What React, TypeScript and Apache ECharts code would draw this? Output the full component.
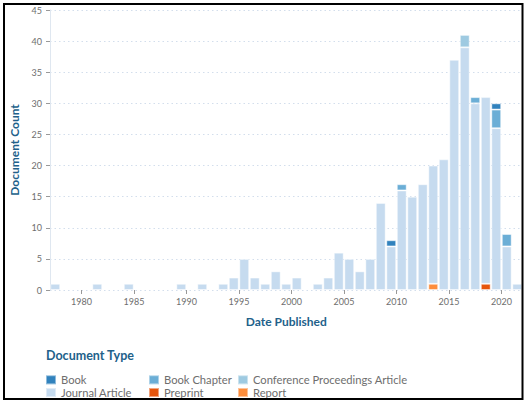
import React, { useEffect, useRef } from "react";
import * as echarts from "echarts";

const years: number[] = [];
for (let y = 1977; y <= 2021; y++) years.push(y);

// values per year, 1977..2021
const journalArticle = [
  1, 0, 0, 0, 1, 0, 0, 1, 0, 0, 0, 0, 1, 0, 1, 0, 1, 2, 5, 2, 1, 3, 1, 2, 0, 1, 2, 6, 5, 3,
  5, 14, 7, 16, 15, 17, 19, 21, 37, 39, 30, 30, 26, 7, 1,
];
const conferenceArticle = [
  0, 0, 0, 0, 0, 0, 0, 0, 0, 0, 0, 0, 0, 0, 0, 0, 0, 0, 0, 0, 0, 0, 0, 0, 0, 0, 0, 0, 0, 0,
  0, 0, 0, 0, 0, 0, 0, 0, 0, 2, 0, 0, 0, 0, 0,
];
const bookChapter = [
  0, 0, 0, 0, 0, 0, 0, 0, 0, 0, 0, 0, 0, 0, 0, 0, 0, 0, 0, 0, 0, 0, 0, 0, 0, 0, 0, 0, 0, 0,
  0, 0, 0, 1, 0, 0, 0, 0, 0, 0, 1, 0, 3, 2, 0,
];
const book = [
  0, 0, 0, 0, 0, 0, 0, 0, 0, 0, 0, 0, 0, 0, 0, 0, 0, 0, 0, 0, 0, 0, 0, 0, 0, 0, 0, 0, 0, 0,
  0, 0, 1, 0, 0, 0, 0, 0, 0, 0, 0, 0, 1, 0, 0,
];
const preprint = [
  0, 0, 0, 0, 0, 0, 0, 0, 0, 0, 0, 0, 0, 0, 0, 0, 0, 0, 0, 0, 0, 0, 0, 0, 0, 0, 0, 0, 0, 0,
  0, 0, 0, 0, 0, 0, 0, 0, 0, 0, 0, 1, 0, 0, 0,
];
const report = [
  0, 0, 0, 0, 0, 0, 0, 0, 0, 0, 0, 0, 0, 0, 0, 0, 0, 0, 0, 0, 0, 0, 0, 0, 0, 0, 0, 0, 0, 0,
  0, 0, 0, 0, 0, 0, 1, 0, 0, 0, 0, 0, 0, 0, 0,
];

const xTickYears = [1980, 1985, 1990, 1995, 2000, 2005, 2010, 2015, 2020];

const FONT = "Lato, 'Noto Sans', sans-serif";
const TITLE_COLOR = "#22618a";
const LABEL_COLOR = "#6e6e6e";

// stack order bottom -> top
const seriesDefs = [
  { name: "Report", values: report, color: "#fd8d3c" },
  { name: "Preprint", values: preprint, color: "#e6550d" },
  { name: "Journal Article", values: journalArticle, color: "#c6dbef" },
  { name: "Conference Proceedings Article", values: conferenceArticle, color: "#9ecae1" },
  { name: "Book Chapter", values: bookChapter, color: "#6baed6" },
  { name: "Book", values: book, color: "#3182bd" },
];

export default function App() {
  const ref = useRef<HTMLDivElement>(null);
  useEffect(() => {
    if (!ref.current) return;
    const chart = echarts.init(ref.current, null, { renderer: "svg" });
    const legendCommon = {
      orient: "vertical" as const,
      top: 373.5,
      padding: 0,
      itemWidth: 10,
      itemHeight: 9,
      itemGap: 0,
      icon: "rect",
      selectedMode: false,
      textStyle: { fontFamily: FONT, fontSize: 11.2, color: LABEL_COLOR, lineHeight: 12.7 },
    };
    chart.setOption({
      animation: false,
      grid: { left: 44.5, right: 6.5, top: 10, bottom: 117, containLabel: false },
      title: {
        text: "Document Type",
        left: 41,
        top: 344,
        textStyle: { fontFamily: FONT, fontSize: 12.5, fontWeight: "bold", color: TITLE_COLOR },
      },
      legend: [
        { ...legendCommon, left: 45, data: ["Book", "Journal Article"] },
        { ...legendCommon, left: 148, data: ["Book Chapter", "Preprint"] },
        { ...legendCommon, left: 237, data: ["Conference Proceedings Article", "Report"] },
      ],
      xAxis: [
        {
          type: "category",
          position: "bottom",
          data: years.map(String),
          boundaryGap: true,
          axisLine: { show: false },
          axisTick: { show: false },
          axisLabel: { show: false },
          splitLine: { show: false },
        },
        {
          type: "value",
          position: "bottom",
          min: 1977,
          max: 2022,
          name: "Date Published",
          nameLocation: "middle",
          nameGap: 25,
          nameTextStyle: { fontFamily: FONT, fontSize: 12, fontWeight: "bold", color: TITLE_COLOR },
          axisLine: { show: false },
          axisTick: {
            show: true,
            length: 4,
            lineStyle: { color: "#999" },
            customValues: xTickYears,
          },
          axisLabel: {
            fontFamily: FONT,
            fontSize: 9,
            color: LABEL_COLOR,
            margin: 7,
            customValues: xTickYears,
            formatter: (v: number) => String(v),
          },
          splitLine: { show: false },
        },
      ],
      yAxis: {
        type: "value",
        min: 0,
        max: 45,
        interval: 5,
        name: "Document Count",
        nameLocation: "middle",
        nameGap: 30,
        nameTextStyle: { fontFamily: FONT, fontSize: 12, fontWeight: "bold", color: TITLE_COLOR },
        axisLine: { show: true, lineStyle: { color: "#dfe7f0", width: 1 } },
        axisTick: { show: true, length: 4, lineStyle: { color: "#999" } },
        axisLabel: { fontFamily: FONT, fontSize: 9, color: LABEL_COLOR, margin: 8 },
        splitLine: { show: true, lineStyle: { color: "#d3deec", type: [1.5, 3], width: 1 } },
      },
      series: seriesDefs.map((s) => ({
        name: s.name,
        type: "bar",
        stack: "total",
        xAxisIndex: 0,
        barCategoryGap: "6%",
        itemStyle: { color: s.color, borderColor: "rgba(255,255,255,0.45)", borderWidth: 1 },
        data: s.values.map((v) => (v > 0 ? v : "-")),
      })),
      graphic: [
        {
          type: "rect",
          shape: { x: 4, y: 4, width: 518.5, height: 395 },
          style: { fill: "none", stroke: "#000", lineWidth: 2 },
          silent: true,
          z: 100,
        },
      ],
    });
    return () => chart.dispose();
  }, []);
  return (
    <div
      ref={ref}
      style={{ position: "fixed", left: 0, top: 0, width: 529, height: 407, background: "#fff" }}
    />
  );
}
